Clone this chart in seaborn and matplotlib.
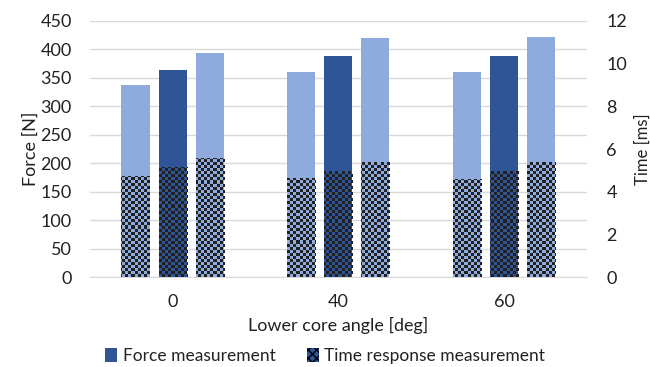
import numpy as np
import pandas as pd
import matplotlib
matplotlib.use("Agg")
import matplotlib.pyplot as plt
from matplotlib.patches import Patch
import seaborn as sns

# ---- data ----
angles = ["0", "40", "60"]
configs = ["A", "B", "C"]
force_A = [337, 360, 361]
force_B = [364, 388, 388]
force_C = [393, 420, 421]
time_A = [4.75, 4.64, 4.61]
time_B = [5.14, 4.99, 4.99]
time_C = [5.57, 5.40, 5.40]
left_ticks = [0, 50, 100, 150, 200, 250, 300, 350, 400, 450]
right_ticks = [0, 2, 4, 6, 8, 10, 12]

light = "#8FAADC"
dark = "#2F5597"
palette = {"A": light, "B": dark, "C": light}

force_df = pd.DataFrame({
    "angle": angles * 3,
    "config": ["A"] * 3 + ["B"] * 3 + ["C"] * 3,
    "value": force_A + force_B + force_C,
})
time_df = pd.DataFrame({
    "angle": angles * 3,
    "config": ["A"] * 3 + ["B"] * 3 + ["C"] * 3,
    "value": time_A + time_B + time_C,
})

sns.set_style("white")
plt.rcParams["font.family"] = ["Lato", "DejaVu Sans"]
plt.rcParams["hatch.color"] = "black"

fig = plt.figure(figsize=(6.5, 3.67), dpi=100)
ax = fig.add_axes([0.138, 0.245, 0.765, 0.698])

sns.barplot(data=force_df, x="angle", y="value", hue="config", order=angles,
            hue_order=configs, palette=palette, width=0.67, gap=0.24,
            ax=ax, legend=False, saturation=1, linewidth=0)
ax.set_ylim(0, 450)
ax.set_yticks(left_ticks)
ax.set_xlim(-0.5, 2.5)
ax.grid(axis="y", color="#D9D9D9", linewidth=1)
ax.set_axisbelow(True)
for s in ["top", "right", "left"]:
    ax.spines[s].set_visible(False)
ax.spines["bottom"].set_color("#D9D9D9")
ax.tick_params(axis="y", length=0, labelsize=13, colors="#222222", pad=13)
ax.tick_params(axis="x", length=0, labelsize=13, colors="#222222", pad=12)
ax.set_ylabel("Force [N]", fontsize=13, color="#222222", labelpad=1)
ax.set_xlabel("Lower core angle [deg]", fontsize=13, color="#222222", labelpad=5)

ax2 = ax.twinx()
sns.barplot(data=time_df, x="angle", y="value", hue="config", order=angles,
            hue_order=configs, palette=palette, width=0.67, gap=0.24,
            ax=ax2, legend=False, saturation=1, linewidth=0)
ax2.set_ylim(0, 12)
ax2.set_yticks(right_ticks)
ax2.set_xlim(-0.5, 2.5)
for s in ["top", "right", "left", "bottom"]:
    ax2.spines[s].set_visible(False)
ax2.tick_params(length=0, labelsize=13, colors="#222222", pad=14)
ax2.set_ylabel("Time [ms]", fontsize=12, color="#222222", labelpad=5)
ax2.grid(False)

# checker overlay clipped to each time bar
nx, ny = 166, 85
yy, xx = np.mgrid[0:ny, 0:nx]
checker = np.zeros((ny, nx, 4))
mask = (xx + yy) % 2 == 0
checker[mask] = [0.13, 0.13, 0.13, 1.0]
xl, yl = ax2.get_xlim(), ax2.get_ylim()
for patch in list(ax2.patches):
    im = ax2.imshow(checker, extent=[xl[0], xl[1], yl[0], yl[1]],
                    aspect="auto", interpolation="nearest", origin="lower",
                    zorder=patch.get_zorder() + 0.1)
    im.set_clip_path(patch)
ax2.set_xlim(xl)
ax2.set_ylim(yl)

handles = [Patch(facecolor=dark, edgecolor="none"),
           Patch(facecolor=dark, edgecolor="black", linewidth=0, hatch="xxxx")]
fig.legend(handles, ["Force measurement", "Time response measurement"],
           loc="lower center", bbox_to_anchor=(0.5, -0.035), ncol=2, frameon=False,
           fontsize=12.5, handlelength=0.7, handleheight=0.9, handletextpad=0.3,
           columnspacing=1.8, labelcolor="#222222")

fig.savefig("out.png", dpi=100)
